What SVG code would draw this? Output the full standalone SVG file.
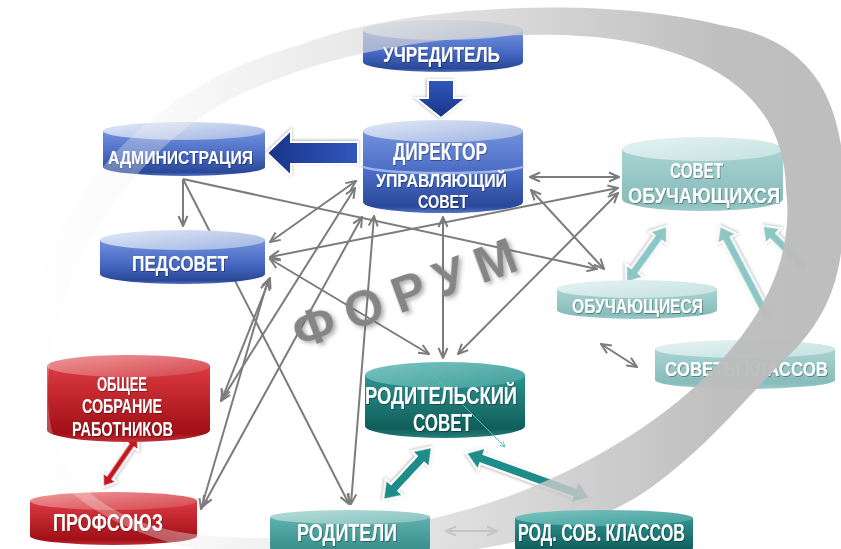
<svg xmlns="http://www.w3.org/2000/svg" width="841" height="549" viewBox="0 0 841 549">
<defs>
<style>
.t{font-family:"Liberation Sans Narrow","Liberation Sans",Arial,sans-serif;font-weight:bold;fill:#fff;text-anchor:middle;filter:url(#txs);}
.ln{fill:none;stroke:#7c7c7c;stroke-width:2;marker-start:url(#ah);marker-end:url(#ah);}
.ln1{fill:none;stroke:#7c7c7c;stroke-width:2;marker-end:url(#ah);}
.lnl{fill:none;stroke:#a9a9a9;stroke-width:2;marker-start:url(#ahl);marker-end:url(#ahl);}
.blk{stroke:#fff;stroke-width:2;filter:url(#sh);}
.forum{font-family:"Liberation Sans",Arial,sans-serif;font-weight:bold;fill:#858585;filter:url(#tsh);}
</style>
<marker id="ah" viewBox="0 0 12 12" refX="11" refY="6" markerWidth="12" markerHeight="12" markerUnits="userSpaceOnUse" orient="auto-start-reverse"><path d="M1,1.5 L11,6 L1,10.5" fill="none" stroke="#7c7c7c" stroke-width="2"/></marker>
<marker id="ahl" viewBox="0 0 12 12" refX="11" refY="6" markerWidth="12" markerHeight="12" markerUnits="userSpaceOnUse" orient="auto-start-reverse"><path d="M1,1.5 L11,6 L1,10.5" fill="none" stroke="#a9a9a9" stroke-width="2"/></marker>
<marker id="aht" viewBox="0 0 8 8" refX="7" refY="4" markerWidth="7" markerHeight="7" markerUnits="userSpaceOnUse" orient="auto-start-reverse"><path d="M1,1 L7,4 L1,7" fill="none" stroke="#4fc0bc" stroke-width="1"/></marker>
<filter id="sh" x="-20%" y="-20%" width="140%" height="140%"><feDropShadow dx="0" dy="1" stdDeviation="1.5" flood-color="#777" flood-opacity="0.55"/></filter>
<filter id="txs" x="-5%" y="-20%" width="110%" height="140%"><feDropShadow dx="0.8" dy="1" stdDeviation="0.7" flood-color="#000" flood-opacity="0.35"/></filter>
<filter id="tsh" x="-10%" y="-20%" width="120%" height="140%"><feDropShadow dx="2" dy="3" stdDeviation="2" flood-color="#555" flood-opacity="0.45"/></filter>
<linearGradient id="bBody" x1="0" y1="0" x2="0" y2="1"><stop offset="0" stop-color="#7392dc"/><stop offset="0.55" stop-color="#4668c2"/><stop offset="0.92" stop-color="#2a4898"/><stop offset="1" stop-color="#5675c4"/></linearGradient>
<linearGradient id="bTop" x1="0" y1="0" x2="1" y2="1"><stop offset="0" stop-color="#e3eaf8"/><stop offset="1" stop-color="#9fb4e2"/></linearGradient>
<linearGradient id="lBody" x1="0" y1="0" x2="0" y2="1"><stop offset="0" stop-color="#a9d4d3"/><stop offset="0.85" stop-color="#86bcbb"/><stop offset="1" stop-color="#9fcbca"/></linearGradient>
<linearGradient id="lTop" x1="0" y1="0" x2="1" y2="1"><stop offset="0" stop-color="#e6f3f3"/><stop offset="1" stop-color="#c3e1e0"/></linearGradient>
<linearGradient id="dBody" x1="0" y1="0" x2="0" y2="1"><stop offset="0" stop-color="#2f9390"/><stop offset="0.85" stop-color="#0f5e5b"/><stop offset="1" stop-color="#2a7f7c"/></linearGradient>
<linearGradient id="dTop" x1="0" y1="0" x2="1" y2="1"><stop offset="0" stop-color="#7cc4c1"/><stop offset="1" stop-color="#3f9e9b"/></linearGradient>
<linearGradient id="mBody" x1="0" y1="0" x2="0" y2="1"><stop offset="0" stop-color="#5fb1ae"/><stop offset="1" stop-color="#338986"/></linearGradient>
<linearGradient id="mTop" x1="0" y1="0" x2="1" y2="1"><stop offset="0" stop-color="#b6dcda"/><stop offset="1" stop-color="#86c2bf"/></linearGradient>
<linearGradient id="rBody" x1="0" y1="0" x2="0" y2="1"><stop offset="0" stop-color="#dc3a41"/><stop offset="0.88" stop-color="#a10f17"/><stop offset="1" stop-color="#c23038"/></linearGradient>
<linearGradient id="rTop" x1="0" y1="0" x2="1" y2="1"><stop offset="0" stop-color="#f0999c"/><stop offset="1" stop-color="#d4454b"/></linearGradient>
<linearGradient id="bArr" x1="0" y1="0" x2="1" y2="0"><stop offset="0" stop-color="#2f58bd"/><stop offset="1" stop-color="#1a3488"/></linearGradient>
<linearGradient id="ringGrad" gradientUnits="userSpaceOnUse" x1="0" y1="0" x2="841" y2="0"><stop offset="0" stop-color="#ffffff" stop-opacity="0.2"/><stop offset="0.2" stop-color="#eeeeee" stop-opacity="0.35"/><stop offset="0.35" stop-color="#e2e2e2" stop-opacity="0.6"/><stop offset="0.55" stop-color="#d0d0d0" stop-opacity="0.7"/><stop offset="0.72" stop-color="#c6c6c6" stop-opacity="0.88"/><stop offset="0.85" stop-color="#bdbdbd" stop-opacity="0.96"/><stop offset="1" stop-color="#bbbbbb" stop-opacity="0.96"/></linearGradient>
</defs>
<rect width="841" height="549" fill="#fff"/>

<g id="connectors">
<path class="ln1" d="M183,179 L183,226"/>
<path class="ln1" d="M183,179 L597,269"/>
<path class="ln1" d="M183,179 L349,504"/>
<path class="ln" d="M270,242 L356,181"/>
<path class="ln" d="M270,257 L618,188"/>
<path class="ln" d="M270,259 L429,354"/>
<path class="ln" d="M530,177 L619,177"/>
<path class="ln" d="M531,190 L604,269"/>
<path class="ln" d="M443,217 L443,358"/>
<path class="ln" d="M458,354 L618,193"/>
<path class="ln" d="M374,216 L351,504"/>
<path class="ln" d="M362,217 L203,506"/>
<path class="ln" d="M355,188 L221,401"/>
<path class="ln" d="M270,278 L222,399"/>
<path class="ln" d="M268,280 L201,509"/>
<path class="ln" d="M601,344 L637,367"/>
<path class="lnl" d="M446,531 L497,531"/>
<polygon class="blk" fill="url(#bArr)" transform="translate(441,80) rotate(90)" points="0,-13 18,-13 18,-25 38,0 18,25 18,13 0,13"/>
<polygon class="blk" fill="url(#bArr)" transform="translate(358,153) rotate(180)" points="0,-11 67,-11 67,-23 91,0 67,23 67,11 0,11"/>
<polygon class="blk" fill="#1b8d89" transform="translate(432,447) rotate(132.75)" points="0,0 17,-12 17,-5 55,-5 55,-12 72,0 55,12 55,5 17,5 17,12"/>
<polygon class="blk" fill="#1b8d89" transform="translate(466,453) rotate(19.94)" points="0,0 17,-12 17,-5 115,-5 115,-12 132,0 115,12 115,5 17,5 17,12"/>
<polygon class="blk" fill="#8cc7c6" transform="translate(667,226) rotate(125.73)" points="0,0 15,-11 15,-4.5 55,-4.5 55,-11 70,0 55,11 55,4.5 15,4.5 15,11"/>
<polygon class="blk" fill="#8cc7c6" transform="translate(768,318) rotate(-117.55)" points="0,-4.5 89,-4.5 89,-11 104,0 89,11 89,4.5 0,4.5"/>
<polygon class="blk" fill="#8cc7c6" transform="translate(805,268) rotate(-135)" points="0,-4.5 45,-4.5 45,-11 60,0 45,11 45,4.5 0,4.5"/>
<polygon class="blk" fill="#c0141d" transform="translate(103,487) rotate(-55.54)" points="0,0 12,-8.5 12,-3.5 50,-3.5 50,-8.5 62,0 50,8.5 50,3.5 12,3.5 12,8.5"/>
</g>

<g id="node-uchreditel">
<path d="M363,30 V62 A80,10 0 0 0 523,62 V30 Z" fill="url(#bBody)"/>
<ellipse cx="443" cy="30" rx="80" ry="10" fill="url(#bTop)"/>
<text class="t" x="441.5" y="62" font-size="22" textLength="117" lengthAdjust="spacingAndGlyphs">УЧРЕДИТЕЛЬ</text>
</g>
<g id="node-direktor">
<path d="M363,131 V202 A80,11 0 0 0 523,202 V131 Z" fill="url(#bBody)"/>
<ellipse cx="443" cy="131" rx="80" ry="11" fill="url(#bTop)"/>
<path d="M363,166 A80,7 0 0 0 523,166" fill="none" stroke="#9fb4e6" stroke-width="2.5"/>
<text class="t" x="440" y="160" font-size="23" textLength="94" lengthAdjust="spacingAndGlyphs">ДИРЕКТОР</text>
<text class="t" x="441.5" y="187" font-size="18" textLength="131" lengthAdjust="spacingAndGlyphs">УПРАВЛЯЮЩИЙ</text>
<text class="t" x="443" y="208" font-size="18" textLength="50" lengthAdjust="spacingAndGlyphs">СОВЕТ</text>
</g>
<g id="node-administraciya">
<path d="M103,131 V167 A81,9 0 0 0 265,167 V131 Z" fill="url(#bBody)"/>
<ellipse cx="184" cy="131" rx="81" ry="9" fill="url(#bTop)"/>
<text class="t" x="180.5" y="164" font-size="19" textLength="145" lengthAdjust="spacingAndGlyphs">АДМИНИСТРАЦИЯ</text>
</g>
<g id="node-pedsovet">
<path d="M100,240 V274 A82.5,10 0 0 0 265,274 V240 Z" fill="url(#bBody)"/>
<ellipse cx="182.5" cy="240" rx="82.5" ry="10" fill="url(#bTop)"/>
<text class="t" x="180" y="271" font-size="22" textLength="96" lengthAdjust="spacingAndGlyphs">ПЕДСОВЕТ</text>
</g>
<g id="node-sovet-obuchayushchihsya">
<path d="M622,149 V199 A80.5,12 0 0 0 783,199 V149 Z" fill="url(#lBody)"/>
<ellipse cx="702.5" cy="149" rx="80.5" ry="12" fill="url(#lTop)"/>
<text class="t" x="696.5" y="178" font-size="22" textLength="53" lengthAdjust="spacingAndGlyphs">СОВЕТ</text>
<text class="t" x="704" y="203" font-size="22" textLength="152" lengthAdjust="spacingAndGlyphs">ОБУЧАЮЩИХСЯ</text>
</g>
<g id="node-obuchayushchiesya">
<path d="M557,289 V310 A80,9 0 0 0 717,310 V289 Z" fill="url(#lBody)"/>
<ellipse cx="637" cy="289" rx="80" ry="9" fill="url(#lTop)"/>
<text class="t" x="637.5" y="313" font-size="20" textLength="131" lengthAdjust="spacingAndGlyphs">ОБУЧАЮЩИЕСЯ</text>
</g>
<g id="node-sovety-klassov">
<path d="M655,349 V380 A90,9 0 0 0 835,380 V349 Z" fill="url(#lBody)"/>
<ellipse cx="745" cy="349" rx="90" ry="9" fill="url(#lTop)"/>
<text class="t" x="746.5" y="376" font-size="21" textLength="163" lengthAdjust="spacingAndGlyphs">СОВЕТЫ КЛАССОВ</text>
</g>
<g id="node-obshchee-sobranie">
<path d="M47,366 V430 A81.5,12 0 0 0 210,430 V366 Z" fill="url(#rBody)"/>
<ellipse cx="128.5" cy="366" rx="81.5" ry="11" fill="url(#rTop)"/>
<text class="t" x="122" y="391" font-size="20" textLength="50" lengthAdjust="spacingAndGlyphs">ОБЩЕЕ</text>
<text class="t" x="122" y="413" font-size="20" textLength="80" lengthAdjust="spacingAndGlyphs">СОБРАНИЕ</text>
<text class="t" x="122.5" y="436" font-size="20" textLength="101" lengthAdjust="spacingAndGlyphs">РАБОТНИКОВ</text>
</g>
<g id="node-profsoyuz">
<path d="M30,501 V536 A83.5,9 0 0 0 197,536 V501 Z" fill="url(#rBody)"/>
<ellipse cx="113.5" cy="501" rx="83.5" ry="9" fill="url(#rTop)"/>
<text class="t" x="108" y="531" font-size="23" textLength="110" lengthAdjust="spacingAndGlyphs">ПРОФСОЮЗ</text>
</g>
<g id="node-roditelskiy-sovet">
<path d="M365,375 V426 A80,12 0 0 0 525,426 V375 Z" fill="url(#dBody)"/>
<ellipse cx="445" cy="375" rx="80" ry="13" fill="url(#dTop)"/>
<path d="M421,363 L505,447" fill="none" stroke="#4fc0bc" stroke-width="1" marker-start="url(#aht)" marker-end="url(#aht)"/>
<text class="t" x="441" y="404" font-size="24" textLength="152" lengthAdjust="spacingAndGlyphs">РОДИТЕЛЬСКИЙ</text>
<text class="t" x="442.5" y="431" font-size="24" textLength="59" lengthAdjust="spacingAndGlyphs">СОВЕТ</text>
</g>

<text class="forum" transform="translate(300,350) rotate(-20)" font-size="50" letter-spacing="12">ФОРУМ</text>

<path id="forum-ring" fill="url(#ringGrad)" fill-rule="evenodd" d="M20,400 C12,260 110,95 300,45 C400,5 600,-5 720,25 C820,40 852,110 843,230 C840,300 812,335 777,367 C740,405 700,455 640,495 C560,545 420,565 280,560 C150,555 30,500 20,400 Z M48,400 C45,300 110,170 220,105 C320,50 450,33 560,35 C680,38 785,80 786,190 C795,260 760,320 715,367 C670,415 600,460 520,492 C420,530 300,545 200,535 C110,525 50,480 48,400 Z"/>

<g id="node-roditeli">
<path d="M270,517 V548 A80,7 0 0 0 430,548 V517 Z" fill="url(#mBody)"/>
<ellipse cx="350" cy="517" rx="80" ry="7" fill="url(#mTop)"/>
<text class="t" x="347" y="541" font-size="23" textLength="100" lengthAdjust="spacingAndGlyphs">РОДИТЕЛИ</text>
</g>
<g id="node-rod-sov-klassov">
<path d="M515,518 V548 A89,8 0 0 0 693,548 V518 Z" fill="url(#dBody)"/>
<ellipse cx="604" cy="518" rx="89" ry="8" fill="url(#dTop)"/>
<text class="t" x="601.5" y="541" font-size="23" textLength="167" lengthAdjust="spacingAndGlyphs">РОД. СОВ. КЛАССОВ</text>
</g>
</svg>
